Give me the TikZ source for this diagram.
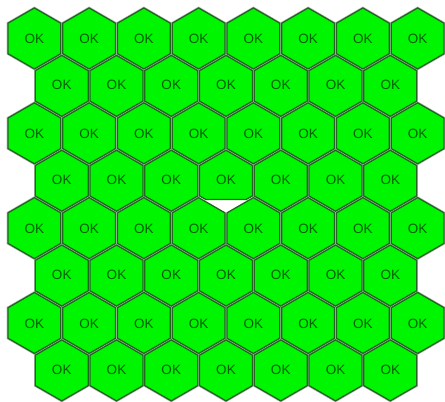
\documentclass[tikz,border=0pt]{standalone}
\usepackage{fontspec}
\setmainfont{Liberation Sans}
\definecolor{hexfill}{RGB}{0,245,0}
\definecolor{hexline}{RGB}{35,100,35}
\definecolor{gapline}{RGB}{185,195,185}
\definecolor{oktext}{RGB}{0,95,0}
\tikzset{
  hexcell/.style={fill=hexfill,draw=hexline,line width=1.3pt,line join=miter},
  hexgap/.style={draw=gapline,line width=1.2pt},
  oklabel/.style={text=oktext,font=\fontsize{13.5}{14}\selectfont,inner sep=0pt}
}
\newcommand{\hexpath}[3]{(#1,#2)+(90:#3) -- +(30:#3) -- +(-30:#3) -- +(-90:#3) -- +(-150:#3) -- +(150:#3) -- cycle}
\begin{document}
\begin{tikzpicture}[x=1pt,y=-1pt]
\useasboundingbox (0,0) rectangle (445,402);
\pgfmathsetmacro{\Rfull}{31.3}
\pgfmathsetmacro{\Rin}{30.5}
% gap layer
\foreach \r in {0,...,7}{
  \pgfmathsetmacro{\cy}{38.45+\r*47.42}
  \pgfmathtruncatemacro{\odd}{mod(\r,2)}
  \ifnum\odd=0
    \foreach \c in {0,...,7}{
      \pgfmathsetmacro{\cx}{34.375+\c*54.75}
      \draw[hexgap] \hexpath{\cx}{\cy}{\Rfull};
    }
  \else
    \foreach \c in {0,...,6}{
      \pgfmathsetmacro{\cx}{61.75+\c*54.75}
      \draw[hexgap] \hexpath{\cx}{\cy}{\Rfull};
    }
  \fi
}
% white triangle under the truncated cell
\fill[white] (199,196) -- (253,196) -- (253,199.5) -- (226,213.5) -- (199,199.5) -- cycle;
% cells
\foreach \r in {0,...,7}{
  \pgfmathsetmacro{\cy}{38.45+\r*47.42}
  \pgfmathtruncatemacro{\odd}{mod(\r,2)}
  \ifnum\odd=0
    \foreach \c in {0,...,7}{
      \pgfmathsetmacro{\cx}{34.375+\c*54.75}
      \path[hexcell] \hexpath{\cx}{\cy}{\Rin};
      \node[oklabel] (ok-\r-\c) at (\cx,\cy+0.5) {OK};
    }
  \else
    \foreach \c in {0,...,6}{
      \pgfmathsetmacro{\cx}{61.75+\c*54.75}
      \ifnum\r=3 \ifnum\c=3
        \def\skipcell{1}
      \else \def\skipcell{0} \fi
      \else \def\skipcell{0} \fi
      \ifnum\skipcell=1
        \path[hexcell] (226,150.25) -- (252.41,165.5) -- (252.41,195.95) -- (246.1,199.5) -- (205.9,199.5) -- (199.59,195.95) -- (199.59,165.5) -- cycle;
      \else
        \path[hexcell] \hexpath{\cx}{\cy}{\Rin};
      \fi
      \node[oklabel] (ok-\r-\c) at (\cx,\cy-1) {OK};
    }
  \fi
}
\end{tikzpicture}
\end{document}
